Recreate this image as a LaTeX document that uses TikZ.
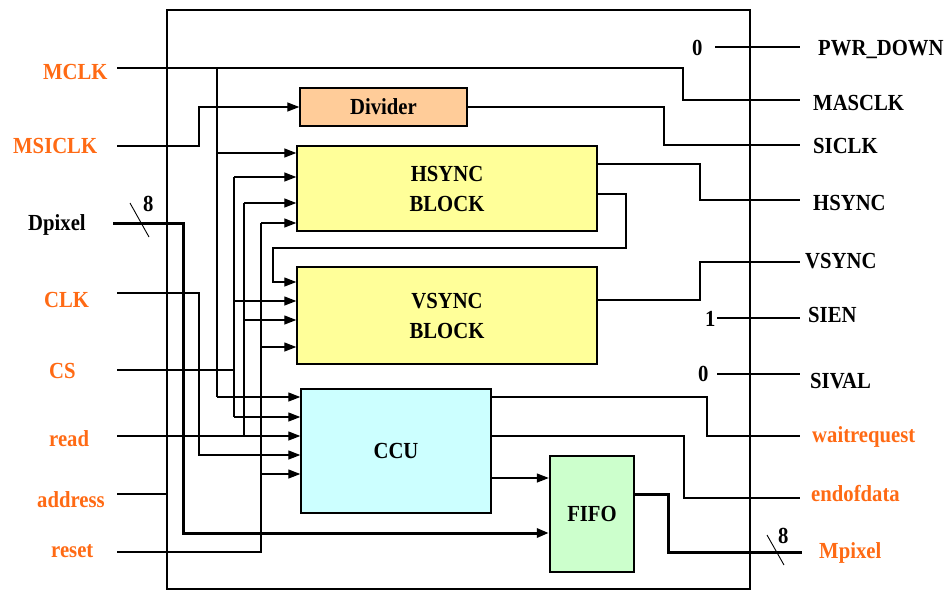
\documentclass[tikz,border=0pt]{standalone}
\usepackage{fontspec}
\setmainfont[FakeStretch=0.9]{Liberation Serif}
\usetikzlibrary{arrows.meta}
\definecolor{lblorange}{RGB}{255,106,20}
\definecolor{divfill}{RGB}{255,204,153}
\definecolor{syncfill}{RGB}{255,255,153}
\definecolor{ccufill}{RGB}{204,255,255}
\definecolor{fifofill}{RGB}{204,255,204}
\tikzset{
  txt/.style={font=\bfseries\fontsize{23}{30}\selectfont},
  lab/.style={txt, inner sep=0pt, anchor=base west},
  olab/.style={lab, text=lblorange},
  blk/.style={draw, line width=1.4pt, inner sep=0pt, txt, align=center},
  wire/.style={line width=1.3pt},
  bus/.style={line width=3pt},
  arr/.style={-{Triangle[length=12pt,width=9pt]}},
  slash/.style={line width=0.9pt},
}
\begin{document}
\begin{tikzpicture}[x=1pt,y=-1pt]
\useasboundingbox (0,0) rectangle (950,590);
% outer frame
\draw[line width=2.4pt] (167,10) rectangle (750,589);

% blocks
\node[blk, fill=divfill, minimum width=167pt, minimum height=38pt] (div) at (383.5,107) {Divider};
\node[blk, fill=syncfill, minimum width=300pt, minimum height=85pt] (hs) at (447,188.5) {HSYNC\\BLOCK};
\node[blk, fill=syncfill, minimum width=300pt, minimum height=97pt] (vs) at (447,315.5) {VSYNC\\BLOCK};
\node[blk, fill=ccufill, minimum width=190pt, minimum height=124pt] (ccu) at (396,451) {CCU};
\node[blk, fill=fifofill, line width=2.4pt, minimum width=84pt, minimum height=116pt] (fifo) at (592,514) {FIFO};

% left labels
\node[olab] (lMCLK) at (43,79) {MCLK};
\node[olab] (lMSICLK) at (13,153) {MSICLK};
\node[lab] (lDpixel) at (28,230) {Dpixel};
\node[olab] (lCLK) at (44,307) {CLK};
\node[olab] (lCS) at (49,378) {CS};
\node[olab] (lread) at (49,446) {read};
\node[olab] (laddress) at (37,507) {address};
\node[olab] (lreset) at (51,557) {reset};

% right labels
\node[lab] (rPWR) at (818,55) {PWR\_DOWN};
\node[lab] (rMAS) at (813,110) {MASCLK};
\node[lab] (rSICLK) at (813,153) {SICLK};
\node[lab] (rHSYNC) at (813,210) {HSYNC};
\node[lab] (rVSYNC) at (805,268) {VSYNC};
\node[lab] (rSIEN) at (808,322) {SIEN};
\node[lab] (rSIVAL) at (810,388) {SIVAL};
\node[olab] (rwait) at (812,442) {waitrequest};
\node[olab] (rend) at (811,501) {endofdata};
\node[olab] (rMpix) at (819,558) {Mpixel};

% constants
\node[lab] (k0a) at (692,55) {0};
\node[lab] (k1) at (705,326) {1};
\node[lab] (k0b) at (698,381) {0};

% input wire starts
\coordinate (iMCLK) at (117,68);
\coordinate (iMSICLK) at (117,146);
\coordinate (iDpix) at (113,223);
\coordinate (iCLK) at (117,293);
\coordinate (iCS) at (117,370);
\coordinate (iread) at (117,436);
\coordinate (iaddr) at (117,494);
\coordinate (ireset) at (117,552);
% output wire ends
\coordinate (oPWR) at (800,47);
\coordinate (oMAS) at (800,100);
\coordinate (oSICLK) at (800,145);
\coordinate (oHSYNC) at (800,200);
\coordinate (oVSYNC) at (800,262);
\coordinate (oSIEN) at (800,318);
\coordinate (oSIVAL) at (800,374);
\coordinate (owait) at (800,436);
\coordinate (oend) at (800,498);
\coordinate (oMpix) at (802,552);

% MCLK
\draw[wire] (iMCLK) -- (683,68) -- (683,100) -- (oMAS);
\draw[wire] (217,68) -- (217,397);
\draw[wire,arr] (217,153) -- (hs.west |- 217,153);
\draw[wire,arr] (217,397) -- (ccu.west |- 217,397);
% MSICLK
\draw[wire,arr] (iMSICLK) -- (199,146) -- (199,107) -- (div.west);
% Divider output
\draw[wire] (div.east) -- (664,107) -- (664,145) -- (oSICLK);
% HSYNC outputs
\draw[wire] (hs.east |- 597,164) -- (700,164) -- (700,200) -- (oHSYNC);
\draw[wire,arr] (hs.east |- 597,194) -- (626,194) -- (626,248) -- (273,248) -- (273,282) -- (vs.west |- 273,282);
% VSYNC output
\draw[wire] (vs.east |- 597,300) -- (700,300) -- (700,262) -- (oVSYNC);
% CS
\draw[wire] (iCS) -- (234,370);
\draw[wire] (234,177) -- (234,417);
\draw[wire,arr] (234,177) -- (hs.west |- 234,177);
\draw[wire,arr] (234,301) -- (vs.west |- 234,301);
\draw[wire,arr] (234,417) -- (ccu.west |- 234,417);
% read
\draw[wire,arr] (iread) -- (ccu.west |- 244,436);
\draw[wire] (244,203) -- (244,436);
\draw[wire,arr] (244,203) -- (hs.west |- 244,203);
\draw[wire,arr] (244,320) -- (vs.west |- 244,320);
% reset
\draw[wire] (ireset) -- (261,552) -- (261,223);
\draw[wire,arr] (261,223) -- (hs.west |- 261,223);
\draw[wire,arr] (261,347) -- (vs.west |- 261,347);
\draw[wire,arr] (261,474) -- (ccu.west |- 261,474);
% CLK
\draw[wire,arr] (iCLK) -- (199,293) -- (199,455) -- (ccu.west |- 199,455);
% address
\draw[wire] (iaddr) -- (167,494);
% Dpixel bus
\draw[bus,arr] (iDpix) -- (183,223) -- (183,533) -- (fifo.west |- 183,533);
\draw[slash] (130,203) -- (149,237);
\node[lab] (n8a) at (143,211) {8};
% CCU outputs
\draw[wire] (ccu.east |- 491,397) -- (707,397) -- (707,436) -- (owait);
\draw[wire] (ccu.east |- 491,436) -- (684,436) -- (684,498) -- (oend);
\draw[wire,arr] (ccu.east |- 491,478) -- (fifo.west |- 491,478);
% FIFO output bus
\draw[bus] (fifo.east |- 634,494) -- (668,494) -- (668,552) -- (oMpix);
\draw[slash] (767,535) -- (784,565);
\node[lab] (n8b) at (778,543) {8};
% constants
\draw[wire] (715,47) -- (oPWR);
\draw[wire] (717,318) -- (oSIEN);
\draw[wire] (717,374) -- (oSIVAL);
\end{tikzpicture}
\end{document}
